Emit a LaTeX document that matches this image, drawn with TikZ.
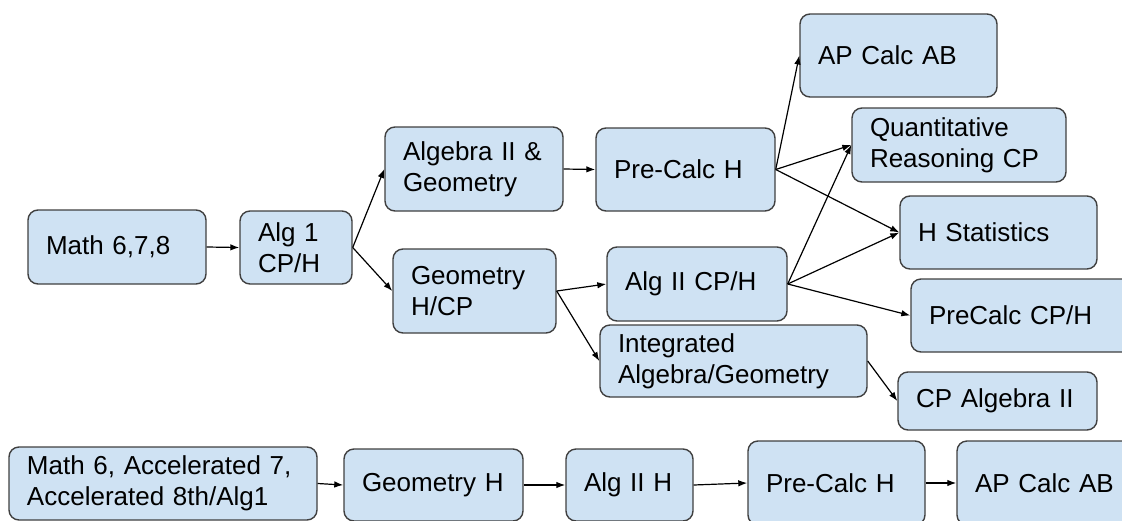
\documentclass[tikz,border=0pt]{standalone}
\usepackage{fontspec}
\setmainfont{Liberation Sans}
\usetikzlibrary{arrows.meta}
\definecolor{boxfill}{HTML}{CFE2F3}
\definecolor{boxline}{HTML}{404040}
\tikzset{
  box/.style={draw=boxline, fill=boxfill, rounded corners=10pt, line width=1.4pt,
    align=left, inner xsep=18pt, inner ysep=0pt, anchor=center,
    font=\fontsize{26}{31}\selectfont},
  sz/.style 2 args={text width=#1pt-36pt, minimum height=#2pt},
  arr/.style={-{Latex[length=9pt,width=6.5pt]}, line width=1.2pt, black}
}
\begin{document}
\begin{tikzpicture}[x=1pt,y=-1pt]
\useasboundingbox (0,0) rectangle (1122,520);
\clip (0,0) rectangle (1122,520);
% top network
\node[box, sz={178}{74}] (m678) at (117,247) {Math~6,7,8};
\node[box, sz={112}{73}] (alg1) at (296,247.5) {Alg~1\\CP/H};
\node[box, sz={178}{84}] (a2g) at (474,169) {Algebra~II~\&\\Geometry};
\node[box, sz={163}{84}] (geo) at (474.5,291) {Geometry\\H/CP};
\node[box, sz={179}{83}] (pch) at (685.5,169.5) {Pre-Calc~H};
\node[box, sz={180}{74}] (a2) at (697,284) {Alg~II~CP/H};
\node[box, sz={267}{72}] (integ) at (733.5,361) {Integrated\\Algebra/Geometry};
\node[box, sz={197}{83}] (apc) at (898.5,55.5) {AP~Calc~AB};
\node[box, sz={214}{74}] (quant) at (959,145) {Quantitative\\Reasoning~CP};
\node[box, sz={197}{73}] (hstat) at (998.5,232.5) {H~Statistics};
\node[box, sz={229}{73}] (pccp) at (1025.5,315.5) {PreCalc~CP/H};
\node[box, sz={199}{58}] (cpa2) at (997.5,401) {CP~Algebra~II};
% bottom row
\node[box, sz={308}{73}] (m6acc) at (163,483.5) {Math~6,~Accelerated~7,\\Accelerated~8th/Alg1};
\node[box, sz={179}{72}] (geoh) at (433.5,485) {Geometry~H};
\node[box, sz={127}{72}] (a2h) at (629.5,485) {Alg~II~H};
\node[box, sz={177}{84}] (pch2) at (836.5,483) {Pre-Calc~H};
\node[box, sz={182}{84}] (apc2) at (1048,483) {AP~Calc~AB};
% connectors
\draw[arr] (m678.east) -- (alg1.west);
\draw[arr] (alg1.east) -- (a2g.west);
\draw[arr] (alg1.east) -- (geo.west);
\draw[arr] (a2g.east) -- (pch.west);
\draw[arr] (geo.east) -- (a2.west);
\draw[arr] (geo.east) -- (integ.west);
\draw[arr] (pch.east) -- (apc.west);
\draw[arr] (pch.east) -- (quant.west);
\draw[arr] (pch.east) -- (hstat.west);
\draw[arr] (a2.east) -- (quant.west);
\draw[arr] (a2.east) -- (hstat.west);
\draw[arr] (a2.east) -- (pccp.west);
\draw[arr] (integ.east) -- (cpa2.west);
\draw[arr] (m6acc.east) -- (geoh.west);
\draw[arr] (geoh.east) -- (a2h.west);
\draw[arr] (a2h.east) -- (pch2.west);
\draw[arr] (pch2.east) -- (apc2.west);
\end{tikzpicture}
\end{document}
